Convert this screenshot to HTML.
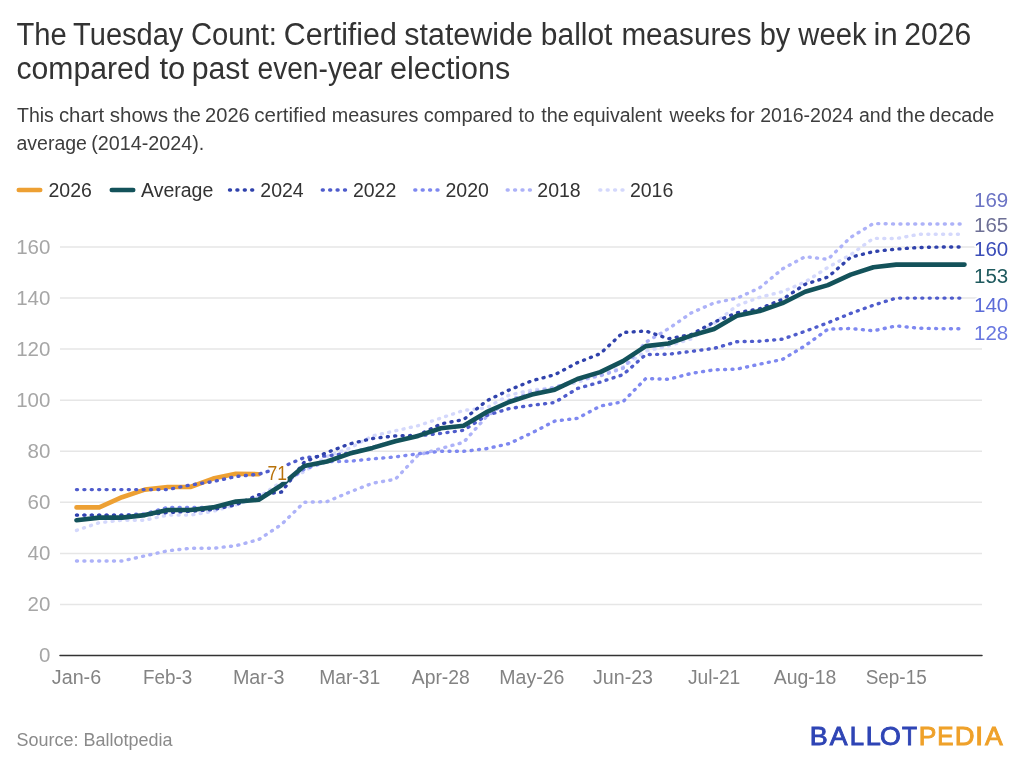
<!DOCTYPE html>
<html><head><meta charset="utf-8"><style>
html,body{margin:0;padding:0;background:#fff;}
svg{display:block;will-change:transform;}
text{font-family:"Liberation Sans",sans-serif;}
.title{font-size:31px;fill:#333;}
.sub{font-size:19.5px;fill:#3d3d3d;}
.lg{font-size:19.5px;fill:#333;}
.g{stroke:#e6e6e6;stroke-width:1.5;}
.yl{font-size:20.5px;fill:#a6a6a6;text-anchor:end;}
.xl{font-size:20.5px;fill:#838383;text-anchor:middle;}
.dl{fill:none;stroke-width:3.4;stroke-dasharray:1 6.4;stroke-linecap:round;stroke-linejoin:round;}
.halo{stroke:#fff;stroke-width:3.5;stroke-linejoin:round;paint-order:stroke;}
.el{font-size:20.5px;}
.src{font-size:17.5px;fill:#8a8a8a;}
.logo{font-size:25.5px;font-weight:normal;stroke-width:0.9;}
</style></head><body>
<svg width="1024" height="768" viewBox="0 0 1024 768">
<text x="16.56" y="44.8" class="title" textLength="50.28" lengthAdjust="spacingAndGlyphs">The</text><text x="73.12" y="44.8" class="title" textLength="110.28" lengthAdjust="spacingAndGlyphs">Tuesday</text><text x="190.91" y="44.8" class="title" textLength="86.09" lengthAdjust="spacingAndGlyphs">Count:</text><text x="283.84" y="44.8" class="title" textLength="112.94" lengthAdjust="spacingAndGlyphs">Certified</text><text x="404.32" y="44.8" class="title" textLength="128.53" lengthAdjust="spacingAndGlyphs">statewide</text><text x="540.87" y="44.8" class="title" textLength="71.54" lengthAdjust="spacingAndGlyphs">ballot</text><text x="621.39" y="44.8" class="title" textLength="130.28" lengthAdjust="spacingAndGlyphs">measures</text><text x="759.73" y="44.8" class="title" textLength="30.68" lengthAdjust="spacingAndGlyphs">by</text><text x="798.30" y="44.8" class="title" textLength="68.30" lengthAdjust="spacingAndGlyphs">week</text><text x="873.58" y="44.8" class="title">in</text><text x="904.16" y="44.8" class="title" textLength="66.98" lengthAdjust="spacingAndGlyphs">2026</text><text x="16.53" y="78.7" class="title" textLength="134.03" lengthAdjust="spacingAndGlyphs">compared</text><text x="159.50" y="78.7" class="title">to</text><text x="191.65" y="78.7" class="title" textLength="57.25" lengthAdjust="spacingAndGlyphs">past</text><text x="257.49" y="78.7" class="title" textLength="125.19" lengthAdjust="spacingAndGlyphs">even-year</text><text x="390.02" y="78.7" class="title" textLength="120.22" lengthAdjust="spacingAndGlyphs">elections</text><text x="17.00" y="121.8" class="sub">This</text><text x="58.96" y="121.8" class="sub" textLength="45.17" lengthAdjust="spacingAndGlyphs">chart</text><text x="109.75" y="121.8" class="sub" textLength="58.20" lengthAdjust="spacingAndGlyphs">shows</text><text x="173.30" y="121.8" class="sub" textLength="27.63" lengthAdjust="spacingAndGlyphs">the</text><text x="205.07" y="121.8" class="sub" textLength="44.66" lengthAdjust="spacingAndGlyphs">2026</text><text x="254.25" y="121.8" class="sub" textLength="71.90" lengthAdjust="spacingAndGlyphs">certified</text><text x="331.69" y="121.8" class="sub" textLength="86.75" lengthAdjust="spacingAndGlyphs">measures</text><text x="423.78" y="121.8" class="sub" textLength="88.78" lengthAdjust="spacingAndGlyphs">compared</text><text x="518.60" y="121.8" class="sub" textLength="16.05" lengthAdjust="spacingAndGlyphs">to</text><text x="541.25" y="121.8" class="sub" textLength="27.68" lengthAdjust="spacingAndGlyphs">the</text><text x="573.09" y="121.8" class="sub">equivalent</text><text x="669.40" y="121.8" class="sub" textLength="56.00" lengthAdjust="spacingAndGlyphs">weeks</text><text x="730.30" y="121.8" class="sub" textLength="24.27" lengthAdjust="spacingAndGlyphs">for</text><text x="760.19" y="121.8" class="sub">2016-2024</text><text x="858.99" y="121.8" class="sub">and</text><text x="896.80" y="121.8" class="sub" textLength="28.57" lengthAdjust="spacingAndGlyphs">the</text><text x="929.39" y="121.8" class="sub" textLength="64.91" lengthAdjust="spacingAndGlyphs">decade</text><text x="16.50" y="150.0" class="sub">average</text><text x="91.19" y="150.0" class="sub" textLength="113.11" lengthAdjust="spacingAndGlyphs">(2014-2024).</text>
<line x1="18.8" x2="40.2" y1="190" y2="190" stroke="#eda033" stroke-width="4.6" stroke-linecap="round"/><text x="48.5" y="196.5" class="lg">2026</text><line x1="111.8" x2="133.2" y1="190" y2="190" stroke="#13525a" stroke-width="4.6" stroke-linecap="round"/><text x="141.0" y="196.5" class="lg">Average</text><line x1="229.5" x2="252.7" y1="190" y2="190" stroke="#3042ac" class="dl"/><text x="260.3" y="196.5" class="lg">2024</text><line x1="322.3" x2="345.5" y1="190" y2="190" stroke="#4f5ccc" class="dl"/><text x="352.9" y="196.5" class="lg">2022</text><line x1="414.8" x2="438.0" y1="190" y2="190" stroke="#7e88f0" class="dl"/><text x="445.5" y="196.5" class="lg">2020</text><line x1="507.2" x2="530.4" y1="190" y2="190" stroke="#adb2f8" class="dl"/><text x="537.3" y="196.5" class="lg">2018</text><line x1="599.8" x2="623.0" y1="190" y2="190" stroke="#d4d8fc" class="dl"/><text x="629.9" y="196.5" class="lg">2016</text>
<line x1="60" x2="982" y1="604.4" y2="604.4" class="g"/><line x1="60" x2="982" y1="553.4" y2="553.4" class="g"/><line x1="60" x2="982" y1="502.3" y2="502.3" class="g"/><line x1="60" x2="982" y1="451.3" y2="451.3" class="g"/><line x1="60" x2="982" y1="400.2" y2="400.2" class="g"/><line x1="60" x2="982" y1="349.1" y2="349.1" class="g"/><line x1="60" x2="982" y1="298.1" y2="298.1" class="g"/><line x1="60" x2="982" y1="247.0" y2="247.0" class="g"/>
<text x="50.4" y="662.3" class="yl">0</text><text x="50.4" y="611.2" class="yl">20</text><text x="50.4" y="560.2" class="yl">40</text><text x="50.4" y="509.1" class="yl">60</text><text x="50.4" y="458.1" class="yl">80</text><text x="50.4" y="407.0" class="yl">100</text><text x="50.4" y="355.9" class="yl">120</text><text x="50.4" y="304.9" class="yl">140</text><text x="50.4" y="253.8" class="yl">160</text>
<line x1="60" x2="982" y1="655.5" y2="655.5" stroke="#333" stroke-width="1.5" stroke-linecap="round"/>
<text x="76.5" y="683.9" class="xl" textLength="49.3" lengthAdjust="spacingAndGlyphs">Jan-6</text><text x="167.6" y="683.9" class="xl" textLength="49.1" lengthAdjust="spacingAndGlyphs">Feb-3</text><text x="258.7" y="683.9" class="xl" textLength="51.6" lengthAdjust="spacingAndGlyphs">Mar-3</text><text x="349.7" y="683.9" class="xl" textLength="61.0" lengthAdjust="spacingAndGlyphs">Mar-31</text><text x="440.8" y="683.9" class="xl" textLength="58.0" lengthAdjust="spacingAndGlyphs">Apr-28</text><text x="531.9" y="683.9" class="xl" textLength="65.1" lengthAdjust="spacingAndGlyphs">May-26</text><text x="623.0" y="683.9" class="xl" textLength="60.0" lengthAdjust="spacingAndGlyphs">Jun-23</text><text x="714.1" y="683.9" class="xl" textLength="52.4" lengthAdjust="spacingAndGlyphs">Jul-21</text><text x="805.1" y="683.9" class="xl" textLength="62.6" lengthAdjust="spacingAndGlyphs">Aug-18</text><text x="896.2" y="683.9" class="xl" textLength="61.0" lengthAdjust="spacingAndGlyphs">Sep-15</text>
<path d="M76.5,507.4 L99.3,507.4 L122.0,497.2 L144.8,489.6 L167.6,487.0 L190.3,487.0 L213.1,478.6 L235.9,473.7 L258.7,474.2" fill="none" stroke="#eda033" stroke-width="4.6" stroke-linecap="round" stroke-linejoin="round"/>
<path d="M76.5,530.4 L99.3,522.7 L122.0,520.2 L144.8,520.2 L167.6,515.1 L190.3,515.1 L213.1,511.3 L235.9,504.9 L258.7,497.2 L281.4,481.9 L304.2,471.7 L327.0,456.4 L349.7,448.2 L372.5,435.9 L395.3,430.8 L418.1,425.7 L440.8,418.1 L463.6,410.4 L486.4,407.9 L509.1,395.1 L531.9,390.0 L554.7,387.4 L577.4,382.3 L600.2,374.7 L623.0,367.0 L645.8,351.2 L668.5,345.8 L691.3,338.9 L714.1,323.6 L736.8,305.7 L759.6,297.3 L782.4,291.7 L805.1,282.0 L827.9,267.4 L850.7,254.7 L873.4,238.3 L896.2,238.6 L919.0,234.3 L941.8,234.3 L964.5,234.3" stroke="#d4d8fc" class="dl"/><path d="M76.5,561.0 L99.3,561.0 L122.0,561.0 L144.8,555.9 L167.6,550.8 L190.3,548.3 L213.1,548.3 L235.9,545.7 L258.7,539.6 L281.4,524.5 L304.2,502.3 L327.0,501.6 L349.7,492.1 L372.5,483.2 L395.3,479.3 L418.1,455.1 L440.8,448.5 L463.6,442.3 L486.4,416.8 L509.1,400.2 L531.9,392.5 L554.7,387.4 L577.4,379.8 L600.2,375.9 L623.0,368.3 L645.8,342.2 L668.5,328.7 L691.3,312.9 L714.1,302.9 L736.8,298.3 L759.6,287.9 L782.4,269.0 L805.1,256.7 L827.9,259.3 L850.7,237.3 L873.4,223.5 L896.2,224.0 L919.0,224.0 L941.8,224.0 L964.5,224.0" stroke="#adb2f8" class="dl"/><path d="M76.5,515.1 L99.3,515.1 L122.0,515.1 L144.8,513.8 L167.6,507.4 L190.3,507.4 L213.1,507.4 L235.9,502.3 L258.7,498.5 L281.4,485.7 L304.2,469.1 L327.0,461.7 L349.7,461.2 L372.5,458.9 L395.3,456.9 L418.1,453.8 L440.8,451.3 L463.6,451.3 L486.4,448.7 L509.1,443.6 L531.9,432.9 L554.7,421.1 L577.4,418.3 L600.2,406.1 L623.0,401.7 L645.8,378.5 L668.5,379.3 L691.3,373.4 L714.1,369.8 L736.8,369.1 L759.6,364.2 L782.4,359.4 L805.1,345.8 L827.9,329.2 L850.7,328.5 L873.4,330.8 L896.2,325.9 L919.0,328.2 L941.8,328.7 L964.5,328.7" stroke="#7e88f0" class="dl"/><path d="M76.5,489.6 L99.3,489.6 L122.0,489.6 L144.8,489.6 L167.6,489.6 L190.3,485.0 L213.1,481.6 L235.9,476.5 L258.7,474.2 L281.4,467.3 L304.2,457.6 L327.0,455.9 L349.7,453.0 L372.5,447.4 L395.3,441.0 L418.1,435.9 L440.8,433.4 L463.6,430.3 L486.4,415.5 L509.1,408.6 L531.9,405.3 L554.7,402.5 L577.4,388.5 L600.2,382.1 L623.0,374.7 L645.8,354.5 L668.5,354.2 L691.3,351.4 L714.1,348.4 L736.8,341.7 L759.6,341.2 L782.4,339.2 L805.1,331.3 L827.9,322.8 L850.7,313.4 L873.4,305.2 L896.2,298.1 L919.0,298.1 L941.8,298.1 L964.5,298.1" stroke="#4f5ccc" class="dl"/><path d="M76.5,515.1 L99.3,515.1 L122.0,515.1 L144.8,515.1 L167.6,512.5 L190.3,511.3 L213.1,509.5 L235.9,504.9 L258.7,494.7 L281.4,492.1 L304.2,462.2 L327.0,452.5 L349.7,443.9 L372.5,438.5 L395.3,435.9 L418.1,435.4 L440.8,423.9 L463.6,419.6 L486.4,401.0 L509.1,390.0 L531.9,380.8 L554.7,374.7 L577.4,362.7 L600.2,353.7 L623.0,332.5 L645.8,331.0 L668.5,338.7 L691.3,334.6 L714.1,322.1 L736.8,312.9 L759.6,308.8 L782.4,299.4 L805.1,284.3 L827.9,277.1 L850.7,257.2 L873.4,251.6 L896.2,249.1 L919.0,247.5 L941.8,247.0 L964.5,247.0" stroke="#3042ac" class="dl"/>
<path d="M76.5,520.2 L99.3,517.6 L122.0,517.6 L144.8,515.1 L167.6,510.0 L190.3,510.0 L213.1,507.4 L235.9,501.6 L258.7,499.8 L281.4,485.2 L304.2,466.1 L327.0,461.5 L349.7,453.6 L372.5,447.9 L395.3,441.3 L418.1,435.9 L440.8,428.3 L463.6,425.7 L486.4,412.2 L509.1,402.0 L531.9,394.6 L554.7,389.7 L577.4,379.0 L600.2,372.1 L623.0,361.1 L645.8,346.1 L668.5,343.5 L691.3,335.6 L714.1,329.0 L736.8,315.7 L759.6,311.1 L782.4,303.2 L805.1,291.7 L827.9,285.1 L850.7,274.6 L873.4,267.2 L896.2,264.6 L919.0,264.6 L941.8,264.6 L964.5,264.6" fill="none" stroke="#13525a" stroke-width="4.6" stroke-linecap="round" stroke-linejoin="round"/>
<text x="267.5" y="479.7" class="el halo" fill="#b8720a" textLength="19.5" lengthAdjust="spacingAndGlyphs">71</text>
<text x="974" y="206.5" class="el halo" fill="#6b73c4">169</text>
<text x="974" y="232.4" class="el halo" fill="#6e7096">165</text>
<text x="974" y="255.8" class="el halo" fill="#3a4cb8">160</text>
<text x="974" y="283.4" class="el halo" fill="#1f5a5e">153</text>
<text x="974" y="311.5" class="el halo" fill="#5c6cd8">140</text>
<text x="974" y="339.6" class="el halo" fill="#6a78e0">128</text>
<text x="16.5" y="746.3" class="src" textLength="156" lengthAdjust="spacingAndGlyphs">Source: Ballotpedia</text>
<text x="809.89" y="744.8" class="logo" fill="#2f45b5" stroke="#2f45b5" textLength="17.99" lengthAdjust="spacingAndGlyphs">B</text><text x="829.80" y="744.8" class="logo" fill="#2f45b5" stroke="#2f45b5" textLength="17.82" lengthAdjust="spacingAndGlyphs">A</text><text x="849.68" y="744.8" class="logo" fill="#2f45b5" stroke="#2f45b5" textLength="14.31" lengthAdjust="spacingAndGlyphs">L</text><text x="865.78" y="744.8" class="logo" fill="#2f45b5" stroke="#2f45b5" textLength="15.02" lengthAdjust="spacingAndGlyphs">L</text><text x="879.95" y="744.8" class="logo" fill="#2f45b5" stroke="#2f45b5" textLength="20.84" lengthAdjust="spacingAndGlyphs">O</text><text x="902.10" y="744.8" class="logo" fill="#2f45b5" stroke="#2f45b5" textLength="15.06" lengthAdjust="spacingAndGlyphs">T</text><text x="918.83" y="744.8" class="logo" fill="#efa12a" stroke="#efa12a" textLength="17.62" lengthAdjust="spacingAndGlyphs">P</text><text x="937.29" y="744.8" class="logo" fill="#efa12a" stroke="#efa12a" textLength="16.29" lengthAdjust="spacingAndGlyphs">E</text><text x="954.75" y="744.8" class="logo" fill="#efa12a" stroke="#efa12a" textLength="19.80" lengthAdjust="spacingAndGlyphs">D</text><text x="974.97" y="744.8" class="logo" fill="#efa12a" stroke="#efa12a" textLength="8.28" lengthAdjust="spacingAndGlyphs">I</text><text x="984.90" y="744.8" class="logo" fill="#efa12a" stroke="#efa12a" textLength="17.72" lengthAdjust="spacingAndGlyphs">A</text>
</svg>
</body></html>
